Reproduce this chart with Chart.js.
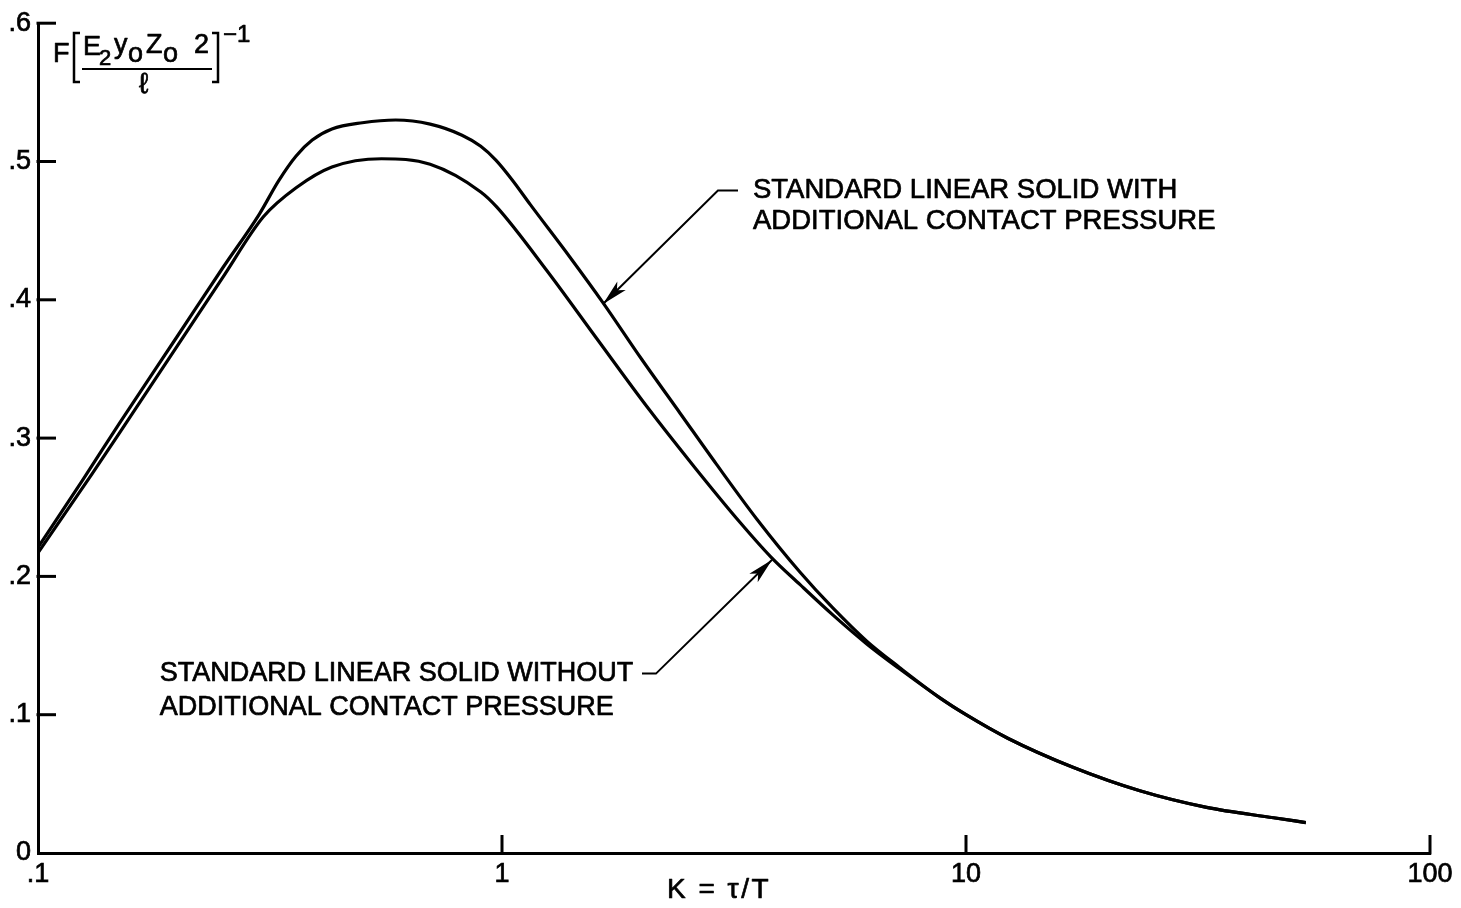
<!DOCTYPE html>
<html>
<head>
<meta charset="utf-8">
<script src="https://cdn.jsdelivr.net/npm/chart.js@4.4.1/dist/chart.umd.min.js"></script>
<style>
  html, body { margin: 0; padding: 0; background: #fff; }
  #wrap { width: 1461px; height: 908px; }
</style>
</head>
<body>
<div id="wrap"><canvas id="forceChart" width="1461" height="908"></canvas></div>
<script>
// curves: K = tau/T against F
const kWith = [0.1, 0.125, 0.15, 0.2, 0.25, 0.30, 0.33, 0.36, 0.39, 0.43, 0.5, 0.59, 0.7, 0.82, 0.9, 0.97, 1.05, 1.15, 1.4, 1.65, 2.0, 2.42, 2.9, 3.55, 4.39, 5.17, 6.12, 7.2, 8.8, 10, 12.3, 17, 23.7, 33, 46, 54];
const fWith = [0.221, 0.270, 0.311, 0.374, 0.423, 0.462, 0.486, 0.504, 0.5155, 0.5235, 0.528, 0.530, 0.527, 0.519, 0.511, 0.501, 0.487, 0.469, 0.431, 0.398, 0.357, 0.318, 0.281, 0.241, 0.203, 0.177, 0.153, 0.134, 0.112, 0.100, 0.083, 0.062, 0.045, 0.033, 0.0255, 0.022];

const kWithout = [0.1, 0.131, 0.15, 0.2, 0.25, 0.306, 0.36, 0.43, 0.55, 0.7, 0.9, 0.975, 1.25, 1.6, 2.05, 2.6, 3.26, 3.8, 4.39, 5.17, 6.12, 7.2, 8.8, 10, 12.3, 17, 23.7, 33, 46, 54];
const fWithout = [0.217, 0.2745, 0.304, 0.367, 0.416, 0.460, 0.481, 0.496, 0.502, 0.498, 0.478, 0.467, 0.421, 0.372, 0.323, 0.279, 0.239, 0.214, 0.194, 0.172, 0.151, 0.133, 0.112, 0.100, 0.083, 0.062, 0.045, 0.033, 0.0255, 0.022];

const xTicks = [0.1, 1, 10, 100];
const xTickLabels = ['.1', '1', '10', '100'];
const yTicks = [0, 0.1, 0.2, 0.3, 0.4, 0.5, 0.6];
const yTickLabels = ['0', '.1', '.2', '.3', '.4', '.5', '.6'];

const xTitle = 'K = \u03C4/T';
const labelWith = ['STANDARD LINEAR SOLID WITH', 'ADDITIONAL CONTACT PRESSURE'];
const labelWithout = ['STANDARD LINEAR SOLID WITHOUT', 'ADDITIONAL CONTACT PRESSURE'];

const FONT = "'Liberation Sans', Arial, sans-serif";
Chart.defaults.font.family = FONT;
Chart.defaults.color = '#000';

function toPts(xs, ys) {
  return xs.map((x, i) => ({x: x, y: ys[i]}));
}

// text a bit heavier, like the printed original
function heavyText(ctx, s, x, y) {
  ctx.strokeText(s, x, y);
  ctx.fillText(s, x, y);
}

function arrow(ctx, pts) {
  ctx.beginPath();
  ctx.moveTo(pts[0][0], pts[0][1]);
  for (let i = 1; i < pts.length; i++) ctx.lineTo(pts[i][0], pts[i][1]);
  ctx.stroke();
  const a = pts[pts.length - 2], b = pts[pts.length - 1];
  const ang = Math.atan2(b[1] - a[1], b[0] - a[0]);
  const len = 26, half = 6;
  const c = Math.cos(ang), s = Math.sin(ang);
  ctx.beginPath();
  ctx.moveTo(b[0], b[1]);
  ctx.lineTo(b[0] - len * c + half * s, b[1] - len * s - half * c);
  ctx.lineTo(b[0] - len * 0.75 * c, b[1] - len * 0.75 * s);
  ctx.lineTo(b[0] - len * c - half * s, b[1] - len * s + half * c);
  ctx.closePath();
  ctx.fill();
}

const extras = {
  id: 'extras',
  afterDraw(chart) {
    const ctx = chart.ctx;
    const xs = chart.scales.x, ys = chart.scales.y;
    const area = chart.chartArea;
    const px = v => xs.getPixelForValue(v);
    const py = v => ys.getPixelForValue(v);
    ctx.save();
    ctx.strokeStyle = '#000';
    ctx.fillStyle = '#000';
    ctx.lineCap = 'butt';

    // inward tick marks
    ctx.lineWidth = 3;
    yTicks.slice(1).forEach(v => {
      ctx.beginPath();
      ctx.moveTo(area.left - 1.5, py(v));
      ctx.lineTo(area.left + 18, py(v));
      ctx.stroke();
    });
    xTicks.slice(1).forEach(v => {
      ctx.beginPath();
      ctx.moveTo(px(v), area.bottom + 1.5);
      ctx.lineTo(px(v), area.bottom - 18);
      ctx.stroke();
    });

    ctx.lineWidth = 0.7;
    ctx.lineJoin = 'round';

    // x axis title
    ctx.font = '28px ' + FONT;
    ctx.letterSpacing = '2.5px';
    ctx.textAlign = 'center';
    ctx.textBaseline = 'middle';
    heavyText(ctx, xTitle, 719, 890);
    ctx.letterSpacing = '0px';

    // y axis label  F [E2 yo Zo^2 / l]^-1
    ctx.textAlign = 'left';
    ctx.textBaseline = 'alphabetic';
    ctx.font = '27px ' + FONT;
    heavyText(ctx, 'F', 53, 62);
    heavyText(ctx, 'E', 83, 55);
    heavyText(ctx, 'y', 114, 53);
    heavyText(ctx, 'Z', 146, 53);
    heavyText(ctx, 'o', 128, 62);
    heavyText(ctx, 'o', 163, 62);
    heavyText(ctx, '2', 194, 53);
    ctx.font = '22px ' + FONT;
    heavyText(ctx, '2', 99, 65);
    ctx.font = '29px ' + FONT;
    heavyText(ctx, '\u2113', 139, 93);
    ctx.font = '24px ' + FONT;
    heavyText(ctx, '\u22121', 223, 42);
    ctx.lineWidth = 2.5;
    ctx.lineJoin = 'miter';
    ctx.beginPath();
    ctx.moveTo(80, 33); ctx.lineTo(74, 33); ctx.lineTo(74, 82); ctx.lineTo(80, 82);
    ctx.moveTo(212, 33); ctx.lineTo(218, 33); ctx.lineTo(218, 82); ctx.lineTo(212, 82);
    ctx.stroke();
    ctx.lineWidth = 2;
    ctx.beginPath();
    ctx.moveTo(82, 69); ctx.lineTo(212, 69);
    ctx.stroke();

    // curve labels and leader arrows
    ctx.lineWidth = 0.7;
    ctx.lineJoin = 'round';
    ctx.textBaseline = 'middle';
    ctx.textAlign = 'left';
    ctx.font = '27.5px ' + FONT;
    heavyText(ctx, labelWith[0], px(3.475), py(0.479));
    heavyText(ctx, labelWith[1], px(3.475), py(0.457));
    ctx.font = '27px ' + FONT;
    heavyText(ctx, labelWithout[0], px(0.183), py(0.1297));
    heavyText(ctx, labelWithout[1], px(0.183), py(0.1054));

    ctx.lineWidth = 2;
    ctx.lineJoin = 'miter';
    arrow(ctx, [[px(3.226), py(0.479)], [px(2.92), py(0.479)], [px(1.651), py(0.397)]]);
    arrow(ctx, [[px(2.003), py(0.1297)], [px(2.147), py(0.1297)], [px(3.82), py(0.212)]]);
    ctx.restore();
  }
};

const config = {
  type: 'scatter',
  data: {
    datasets: [
      {
        label: labelWith.join(' '),
        data: toPts(kWith, fWith),
        showLine: true,
        borderColor: '#000',
        borderWidth: 3.2,
        pointRadius: 0,
        cubicInterpolationMode: 'monotone'
      },
      {
        label: labelWithout.join(' '),
        data: toPts(kWithout, fWithout),
        showLine: true,
        borderColor: '#000',
        borderWidth: 3.2,
        pointRadius: 0,
        cubicInterpolationMode: 'monotone'
      }
    ]
  },
  options: {
    responsive: false,
    animation: false,
    layout: { padding: { top: 16, right: 31, left: 0, bottom: 0 } },
    plugins: {
      legend: { display: false },
      tooltip: { enabled: false }
    },
    scales: {
      x: {
        type: 'logarithmic',
        min: 0.1,
        max: 100,
        grid: { display: false, drawTicks: false },
        border: { display: true, color: '#000', width: 3 },
        afterBuildTicks: s => { s.ticks = xTicks.map(v => ({value: v})); },
        afterFit: s => { s.height = 55; },
        ticks: {
          autoSkip: false,
          maxRotation: 0,
          padding: 5,
          font: { size: 27 },
          textStrokeColor: '#000',
          textStrokeWidth: 0.7,
          callback: (v) => xTickLabels[xTicks.indexOf(v)]
        }
      },
      y: {
        min: 0,
        max: 0.6,
        grid: { display: false, drawTicks: false },
        border: { display: true, color: '#000', width: 3 },
        afterBuildTicks: s => { s.ticks = yTicks.map(v => ({value: v})); },
        afterFit: s => { s.width = 38; },
        ticks: {
          padding: 7,
          font: { size: 27 },
          textStrokeColor: '#000',
          textStrokeWidth: 0.7,
          callback: (v) => yTickLabels[yTicks.indexOf(v)]
        }
      }
    }
  },
  plugins: [extras]
};

let forceChart = new Chart(document.getElementById('forceChart'), config);
</script>
</body>
</html>
